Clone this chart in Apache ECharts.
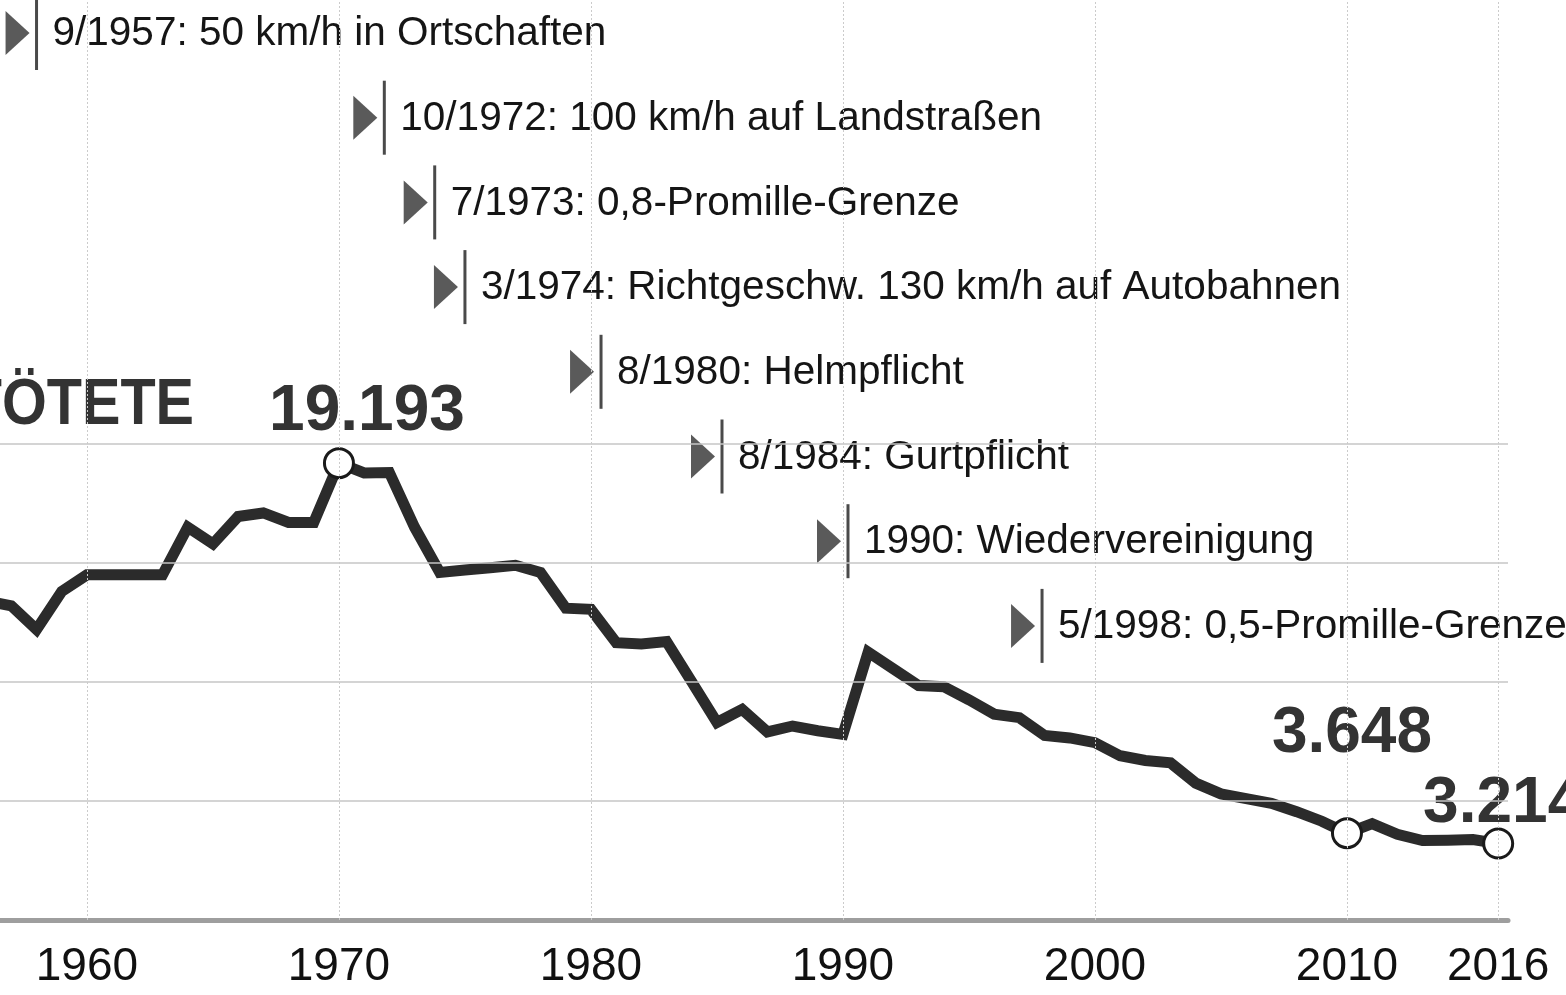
<!DOCTYPE html>
<html>
<head>
<meta charset="utf-8">
<title>Getötete im Straßenverkehr</title>
<script src="https://cdn.jsdelivr.net/npm/echarts@6/dist/echarts.min.js"></script>
<style>
  html, body { margin: 0; padding: 0; background: #fff; }
  #chart { width: 1566px; height: 995px; }
</style>
</head>
<body>
<div id="chart"></div>
<script>
// Verkehrstote pro Jahr
const years = [
  1956, 1957, 1958, 1959, 1960, 1961, 1962, 1963, 1964, 1965,
  1966, 1967, 1968, 1969, 1970, 1971, 1972, 1973, 1974, 1975,
  1976, 1977, 1978, 1979, 1980, 1981, 1982, 1983, 1984, 1985,
  1986, 1987, 1988, 1989, 1990, 1991, 1992, 1993, 1994, 1995,
  1996, 1997, 1998, 1999, 2000, 2001, 2002, 2003, 2004, 2005,
  2006, 2007, 2008, 2009, 2010, 2011, 2012, 2013, 2014, 2015,
  2016
];
const deaths = [
  13400, 13200, 12200, 13800, 14500, 14500, 14500, 14500, 16500, 15800,
  16950, 17100, 16700, 16700, 19193, 18780, 18800, 16500, 14600, 14700,
  14800, 14900, 14600, 13100, 13050, 11650, 11600, 11700, 10000, 8300,
  8850, 7900, 8150, 7950, 7800, 11250, 10550, 9850, 9800, 9250,
  8650, 8500, 7750, 7650, 7450, 6900, 6700, 6600, 5750, 5300,
  5100, 4900, 4550, 4150, 3648, 4050, 3600, 3340, 3350, 3380,
  3214
];

// hervorgehobene Jahre mit Zahlenwert
const highlightYears = [1970, 2010, 2016];

// Achsenbeschriftung und Hilfslinien
const tickYears = [1960, 1970, 1980, 1990, 2000, 2010, 2016];
const gridSteps = [5000, 10000, 15000, 20000];

// Ereignisse: Position auf der Zeitachse und Beschriftung
const eventAt = [1958.0, 1971.8, 1973.8, 1975.0, 1980.4, 1985.2, 1990.2, 1997.9];
const eventLabels = [
  '9/1957: 50 km/h in Ortschaften',
  '10/1972: 100 km/h auf Landstraßen',
  '7/1973: 0,8-Promille-Grenze',
  '3/1974: Richtgeschw. 130 km/h auf Autobahnen',
  '8/1980: Helmpflicht',
  '8/1984: Gurtpflicht',
  '1990: Wiedervereinigung',
  '5/1998: 0,5-Promille-Grenze'
];

const FONT = '"Liberation Sans", Arial, Helvetica, sans-serif';
const INK = '#2b2b2b';

// Lage der Zahlenbeschriftungen relativ zum Punkt
const labelOffset = { 1970: [28, -51], 2010: [5, -99], 2016: [5, -39] };

function fmt(v) {
  return String(v).replace(/\B(?=(\d{3})+(?!\d))/g, '.');
}

const lineData = years.map((y, i) => {
  const item = { value: [y, deaths[i]] };
  if (highlightYears.includes(y)) {
    item.symbol = 'circle';
    item.symbolSize = 29;
    item.label = {
      show: true,
      position: 'inside',
      offset: labelOffset[y],
      formatter: fmt(deaths[i]),
      fontFamily: FONT,
      fontSize: 64,
      fontWeight: 'bold',
      color: '#333'
    };
  }
  return item;
});

const chart = echarts.init(document.getElementById('chart'), null, { renderer: 'canvas' });

chart.setOption({
  animation: false,
  backgroundColor: '#ffffff',
  grid: { left: 0, right: 58, top: 0, bottom: 75, containLabel: false },
  xAxis: {
    type: 'value',
    min: 1956.55,
    max: 2016.39,
    axisLine: { show: true, onZero: false, lineStyle: { color: '#9e9e9e', width: 5 } },
    axisTick: { show: false },
    splitLine: { show: false },
    axisLabel: {
      customValues: tickYears,
      formatter: v => String(v),
      fontFamily: FONT,
      fontSize: 46,
      color: '#111',
      margin: 24
    }
  },
  yAxis: {
    type: 'value',
    min: 0,
    max: 38650,
    show: true,
    axisLine: { show: false },
    axisTick: { show: false },
    axisLabel: { show: false },
    splitLine: { show: false }
  },
  graphic: [{
    type: 'text',
    x: 194,
    y: 406,
    scaleX: 0.9,
    originX: 0,
    originY: 0,
    z: 5,
    style: {
      text: 'GETÖTETE',
      font: 'bold 64px ' + FONT,
      fill: '#333',
      align: 'right',
      verticalAlign: 'middle'
    }
  }],
  series: [
    {
      // Hilfslinien
      type: 'line',
      data: [],
      z: 1,
      silent: true,
      markLine: {
        silent: true,
        symbol: 'none',
        animation: false,
        label: { show: false },
        emphasis: { disabled: true },
        data: [
          ...gridSteps.map(v => ({ yAxis: v, lineStyle: { color: '#c6c6c6', width: 1.5, type: 'solid' } })),
          ...tickYears.map(v => ({ xAxis: v, lineStyle: { color: '#cbcbcb', width: 1, type: [2, 2] } }))
        ]
      }
    },
    {
      // Ereignismarken
      type: 'custom',
      z: 3,
      silent: true,
      data: eventAt.map((t, i) => [t, i]),
      renderItem: function (params, api) {
        const x = api.coord([api.value(0), 0])[0];
        const yc = 33 + api.value(1) * 84.7;
        return {
          type: 'group',
          children: [
            {
              type: 'polygon',
              shape: { points: [[x - 31, yc - 22], [x - 7, yc], [x - 31, yc + 22]] },
              style: { fill: '#5a5a5a' }
            },
            {
              type: 'rect',
              shape: { x: x - 1.5, y: yc - 37, width: 3, height: 74 },
              style: { fill: '#4a4a4a' }
            },
            {
              type: 'text',
              x: x + 16,
              y: yc + 1,
              style: {
                text: eventLabels[params.dataIndex],
                font: '40.5px ' + FONT,
                fill: '#151515',
                align: 'left',
                verticalAlign: 'middle'
              }
            }
          ]
        };
      }
    },
    {
      // Verlauf der Verkehrstoten
      type: 'line',
      z: 4,
      data: lineData,
      symbol: 'none',
      showSymbol: true,
      showAllSymbol: true,
      lineStyle: { color: INK, width: 11, join: 'miter' },
      itemStyle: { color: '#ffffff', borderColor: '#1a1a1a', borderWidth: 3 },
      label: { show: false },
      emphasis: { disabled: true }
    }
  ]
});
</script>
</body>
</html>
